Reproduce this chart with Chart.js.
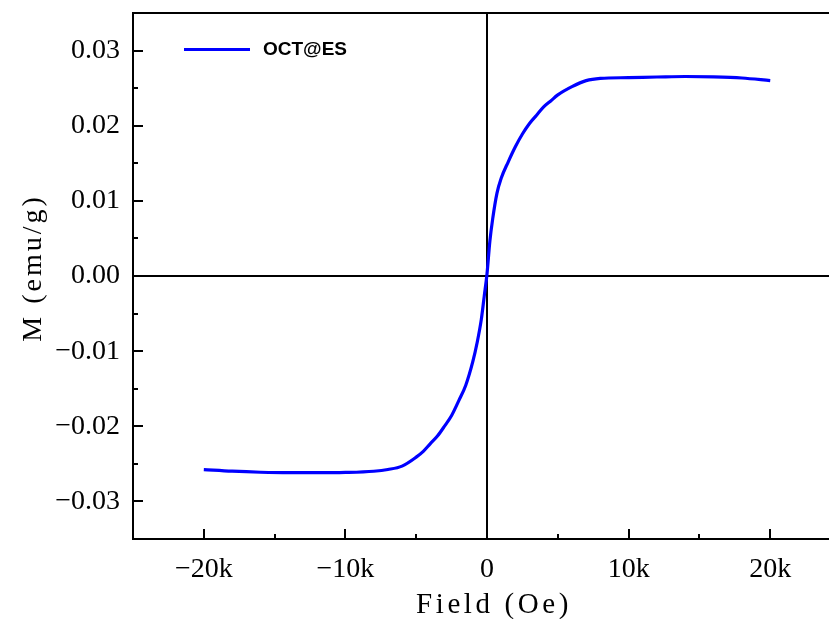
<!DOCTYPE html>
<html>
<head>
<meta charset="utf-8">
<script src="https://cdn.jsdelivr.net/npm/chart.js@4/dist/chart.umd.min.js"></script>
<style>
  html, body { margin: 0; padding: 0; background: #ffffff; }
  #wrap { width: 829px; height: 619px; }
</style>
</head>
<body>
<div id="wrap"><canvas id="c" width="829" height="619"></canvas></div>
<script>
// Magnetisation loop M(H) of the OCT@ES sample
const seriesName = 'OCT@ES';

// Applied field, Oe
const fieldOe = [
  -20000, -18000, -16000, -14000, -12000, -10000, -8000, -7000, -6000, -5000,
  -4500, -4000, -3500, -3000, -2500, -2000, -1500, -1000, -700, -400,
  -200, 0, 200, 400, 700, 1000, 1500, 2000, 2500, 3000,
  3500, 4000, 4500, 5000, 6000, 7000, 8000, 10000, 12000, 14000,
  16000, 18000, 20000
];

// Magnetisation, emu/g
const momentEmuG = [
  -0.02576, -0.02598, -0.02612, -0.02618, -0.02618, -0.02614, -0.02598, -0.02575, -0.02530, -0.02410,
  -0.02333, -0.02230, -0.02130, -0.01998, -0.01856, -0.01662, -0.01453, -0.01137, -0.00889, -0.00574,
  -0.00274, 0.00030, 0.00460, 0.00760, 0.01100, 0.01300, 0.01520, 0.01720, 0.01890, 0.02030,
  0.02140, 0.02250, 0.02330, 0.02410, 0.02520, 0.02600, 0.02630, 0.02640, 0.02648, 0.02655,
  0.02650, 0.02635, 0.02600
];

// Axis ticks
const xTickValues = [-20000, -10000, 0, 10000, 20000];
const xTickLabels = ['\u221220k', '\u221210k', '0', '10k', '20k'];
const yTickValues = [-0.03, -0.02, -0.01, 0, 0.01, 0.02, 0.03];
const yTickLabels = ['\u22120.03', '\u22120.02', '\u22120.01', '0.00', '0.01', '0.02', '0.03'];

// Axis titles
const xTitle = 'Field (Oe)';
const yTitle = 'M (emu/g)';

const points = fieldOe.map((h, i) => ({ x: h, y: momentEmuG[i] }));

const serifFont = '"Liberation Serif", "DejaVu Serif", serif';

// midpoints between major ticks get a short tick
function minorsOf(values) {
  const out = [];
  for (let i = 0; i < values.length - 1; i++) out.push((values[i] + values[i + 1]) / 2);
  const step = values[1] - values[0];
  out.unshift(values[0] - step / 2);
  out.push(values[values.length - 1] + step / 2);
  return out;
}

const framePlugin = {
  id: 'frame',
  afterDraw(chart) {
    const { ctx, chartArea: a, scales: { x, y } } = chart;
    ctx.save();
    ctx.strokeStyle = '#000';
    ctx.lineWidth = 2;
    ctx.lineCap = 'butt';

    // top border
    ctx.beginPath();
    ctx.moveTo(a.left - 1, a.top);
    ctx.lineTo(a.right, a.top);
    ctx.stroke();

    // inward ticks on the bottom axis
    const drawX = (v, len) => {
      const px = Math.round(x.getPixelForValue(v));
      if (px <= a.left + 1 || px >= a.right) return;
      ctx.beginPath();
      ctx.moveTo(px, a.bottom);
      ctx.lineTo(px, a.bottom - len);
      ctx.stroke();
    };
    xTickValues.forEach(v => drawX(v, 10));
    minorsOf(xTickValues).forEach(v => drawX(v, 5));

    // inward ticks on the left axis
    const drawY = (v, len) => {
      const py = Math.round(y.getPixelForValue(v));
      if (py <= a.top + 1 || py >= a.bottom - 1) return;
      ctx.beginPath();
      ctx.moveTo(a.left, py);
      ctx.lineTo(a.left + len, py);
      ctx.stroke();
    };
    yTickValues.forEach(v => drawY(v, 10));
    minorsOf(yTickValues).forEach(v => drawY(v, 5));

    // legend
    const ds = chart.data.datasets[0];
    const ly = a.top + 36.5;
    ctx.strokeStyle = ds.borderColor;
    ctx.lineWidth = 3;
    ctx.beginPath();
    ctx.moveTo(a.left + 51, ly);
    ctx.lineTo(a.left + 117, ly);
    ctx.stroke();
    ctx.fillStyle = '#000';
    ctx.font = 'bold 19px "Liberation Sans", Arial, sans-serif';
    ctx.textBaseline = 'middle';
    ctx.textAlign = 'left';
    ctx.fillText(ds.label, a.left + 130, ly);

    // axis titles, widely spaced
    ctx.font = '29px ' + serifFont;
    ctx.textBaseline = 'alphabetic';
    ctx.textAlign = 'center';
    if ('letterSpacing' in ctx) ctx.letterSpacing = '3.6px';
    ctx.fillText(xTitle, (a.left + a.right) / 2 + 13, 613);

    ctx.font = '28px ' + serifFont;
    if ('letterSpacing' in ctx) ctx.letterSpacing = '3px';
    ctx.translate(41, (a.top + a.bottom) / 2 - 8);
    ctx.rotate(-Math.PI / 2);
    ctx.fillText(yTitle, 0, 0);
    ctx.restore();
  }
};

const zeroLine = ctx => (ctx.tick && ctx.tick.value === 0) ? '#000000' : 'rgba(0,0,0,0)';

new Chart(document.getElementById('c'), {
  type: 'line',
  data: {
    datasets: [{
      label: seriesName,
      data: points,
      borderColor: '#0000ff',
      borderWidth: 3.2,
      pointRadius: 0,
      fill: false,
      cubicInterpolationMode: 'monotone'
    }]
  },
  options: {
    responsive: false,
    animation: false,
    devicePixelRatio: 1,
    layout: { padding: { top: 13, right: 0, left: 0, bottom: 0 } },
    plugins: { legend: { display: false }, tooltip: { enabled: false } },
    scales: {
      x: {
        type: 'linear',
        min: -25000,
        max: 24150,
        afterBuildTicks: s => { s.ticks = xTickValues.map(v => ({ value: v })); },
        afterFit: s => { s.height = 80; s.paddingLeft = 0; s.paddingRight = 0; },
        ticks: {
          autoSkip: false,
          maxRotation: 0,
          padding: 14,
          color: '#000',
          font: { family: serifFont, size: 28 },
          callback: (v, i) => xTickLabels[i]
        },
        grid: { drawTicks: false, color: zeroLine, lineWidth: 2 },
        border: { display: true, color: '#000', width: 2 },
        title: { display: false }
      },
      y: {
        type: 'linear',
        min: -0.035,
        max: 0.035,
        afterBuildTicks: s => { s.ticks = yTickValues.map(v => ({ value: v })); },
        afterFit: s => { s.width = 133; s.paddingTop = 0; s.paddingBottom = 0; },
        ticks: {
          autoSkip: false,
          padding: 13,
          color: '#000',
          font: { family: serifFont, size: 28 },
          callback: (v, i) => yTickLabels[i]
        },
        grid: { drawTicks: false, color: zeroLine, lineWidth: 2 },
        border: { display: true, color: '#000', width: 2 },
        title: { display: false }
      }
    }
  },
  plugins: [framePlugin]
});
</script>
</body>
</html>
